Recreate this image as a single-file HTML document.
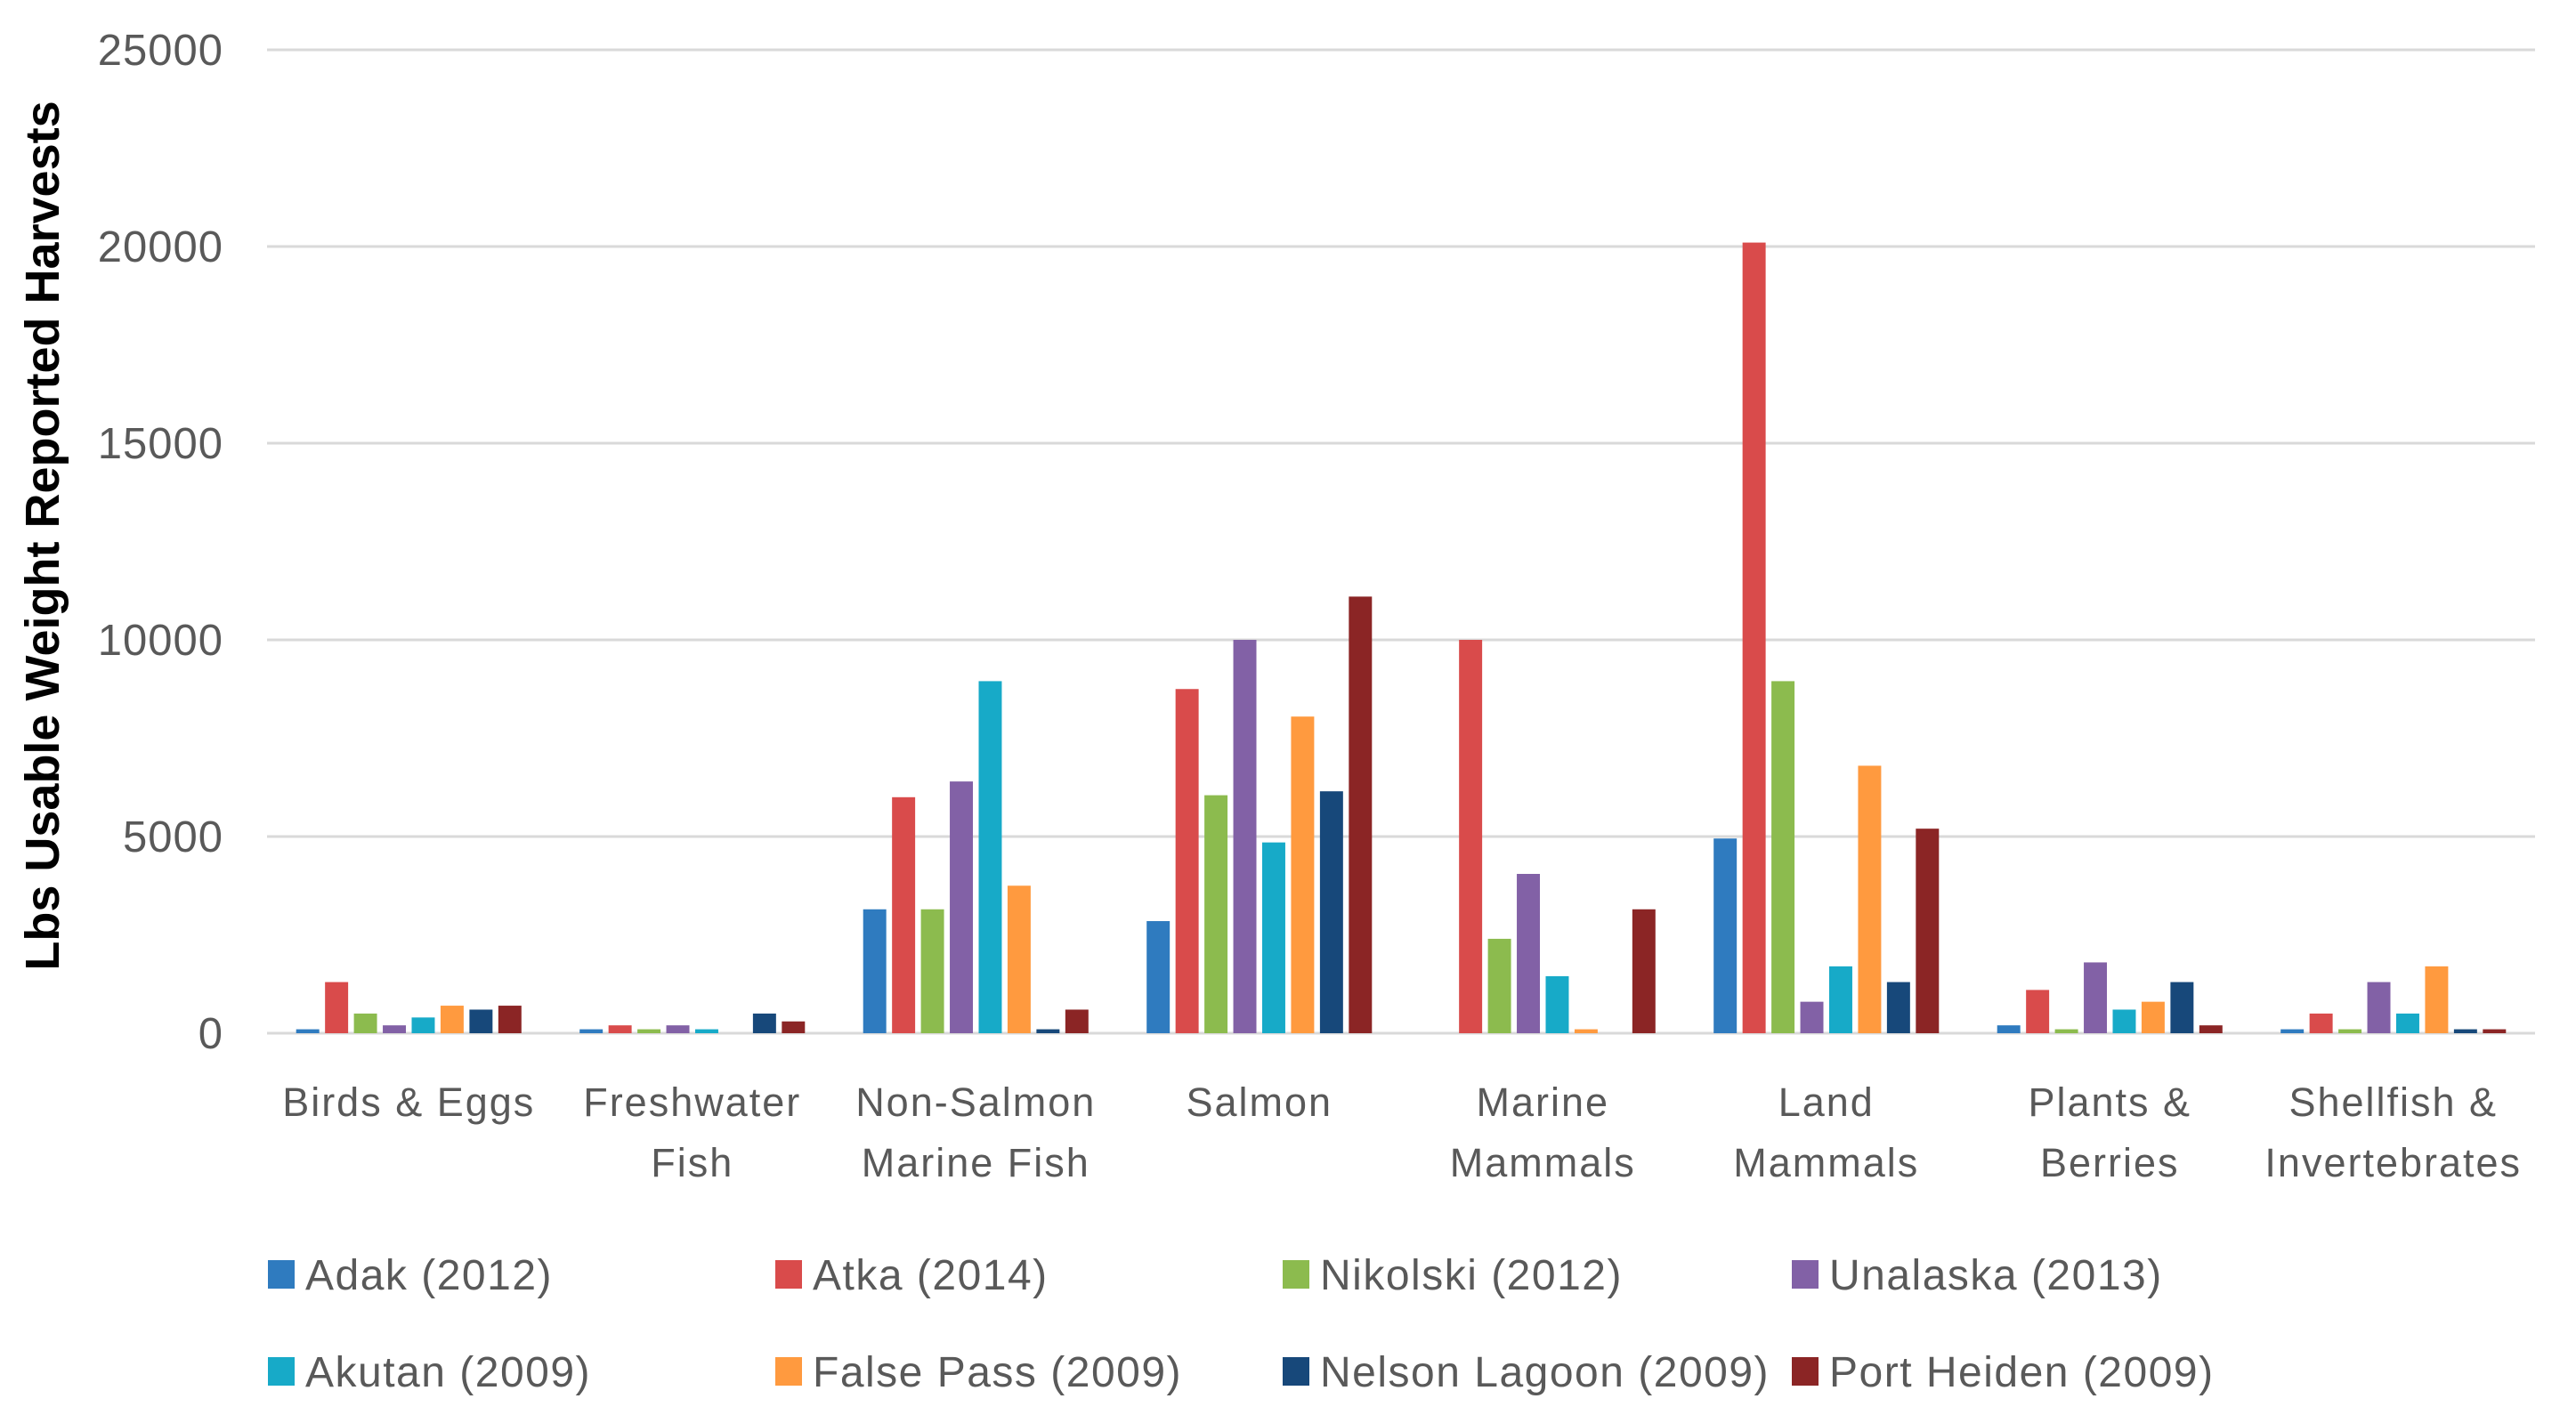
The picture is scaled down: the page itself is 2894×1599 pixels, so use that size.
<!DOCTYPE html>
<html><head><meta charset="utf-8"><style>
html,body{margin:0;padding:0;background:#fff;}
svg{display:block;font-family:"Liberation Sans",sans-serif;}
</style></head><body>
<svg id="chart" width="2894" height="1599" viewBox="0 0 2894 1599">
<g id="grid"></g>
<g id="yticks"></g>
<g id="bars"></g>
<g id="xlabels"></g>
<g id="legend"></g>
<text transform="translate(66,602) rotate(-90)" text-anchor="middle" font-size="54" font-weight="bold" fill="#000">Lbs Usable Weight Reported Harvests</text>
</svg>
<script>
const categories = [["Birds & Eggs"],["Freshwater","Fish"],["Non-Salmon","Marine Fish"],["Salmon"],["Marine","Mammals"],["Land","Mammals"],["Plants &","Berries"],["Shellfish &","Invertebrates"]];
const seriesNames = ["Adak (2012)","Atka (2014)","Nikolski (2012)","Unalaska (2013)","Akutan (2009)","False Pass (2009)","Nelson Lagoon (2009)","Port Heiden (2009)"];
const seriesColors = ["#2F7BBF","#D94B4B","#8CBB4E","#8261A6","#17AAC8","#FF9A3F","#17487A","#8B2525"];
const adak = [100,100,3150,2850,0,4950,200,100];
const atka = [1300,200,6000,8750,10000,20100,1100,500];
const nikolski = [500,100,3150,6050,2400,8950,100,100];
const unalaska = [200,200,6400,10000,4050,800,1800,1300];
const akutan = [400,100,8950,4850,1450,1700,600,500];
const falsePass = [700,0,3750,8050,100,6800,800,1700];
const nelsonLagoon = [600,500,100,6150,0,1300,1300,100];
const portHeiden = [700,300,600,11100,3150,5200,200,100];
const yTicks = [0,5000,10000,15000,20000,25000];
const series = [adak,atka,nikolski,unalaska,akutan,falsePass,nelsonLagoon,portHeiden];

const NS="http://www.w3.org/2000/svg";
const L=300,R=2848,T=56,B=1161,YMAX=25000;
const y=v=>B-(v/YMAX)*(B-T);
const catW=(R-L)/categories.length;
const x=i=>L+catW*i;
function mk(tag,attrs,parent){const e=document.createElementNS(NS,tag);for(const k in attrs)e.setAttribute(k,attrs[k]);parent.appendChild(e);return e;}
const grid=document.getElementById('grid'),yt=document.getElementById('yticks'),bars=document.getElementById('bars'),xl=document.getElementById('xlabels'),lg=document.getElementById('legend');
yTicks.forEach(t=>{
  const ln=mk('line',{x1:L,x2:R,y1:y(t),y2:y(t),stroke:'#d9d9d9','stroke-width':3},grid);
  
  
  const tx=mk('text',{x:251,y:y(t)+17,'text-anchor':'end','font-size':49,fill:'#595959','letter-spacing':1},yt);
  tx.textContent=t;
  
  
});
const slot=catW*0.815/series.length, bw=slot*0.8;
categories.forEach((c,i)=>{
  const cx=x(i)+catW/2, start=cx-slot*series.length/2;
  series.forEach((s,j)=>{
    const v=s[i]; if(v<=0) return;
    const h=Math.max(B-y(v),4);
    const r=mk('rect',{x:start+j*slot+(slot-bw)/2,y:B-h,width:bw,height:h,fill:seriesColors[j]},bars);
    
    
  });
  c.forEach((line,k)=>{
    const tx=mk('text',{x:cx,y:1254+k*68,'text-anchor':'middle','font-size':45,fill:'#595959','letter-spacing':2},xl);
    tx.textContent=line;
    
    
  });
});
const legX=[301,871,1441,2013], legY=[1432,1541];
seriesNames.forEach((n,i)=>{
  const lx=legX[i%4], ly=legY[Math.floor(i/4)];
  const sq=mk('rect',{x:lx,y:ly-16,width:30,height:32,fill:seriesColors[i]},lg);
  
  
  const tx=mk('text',{x:lx+42,y:ly+17,'font-size':48,fill:'#595959','letter-spacing':1.5},lg);
  tx.textContent=n;
  
  
});
</script>
</body></html>
